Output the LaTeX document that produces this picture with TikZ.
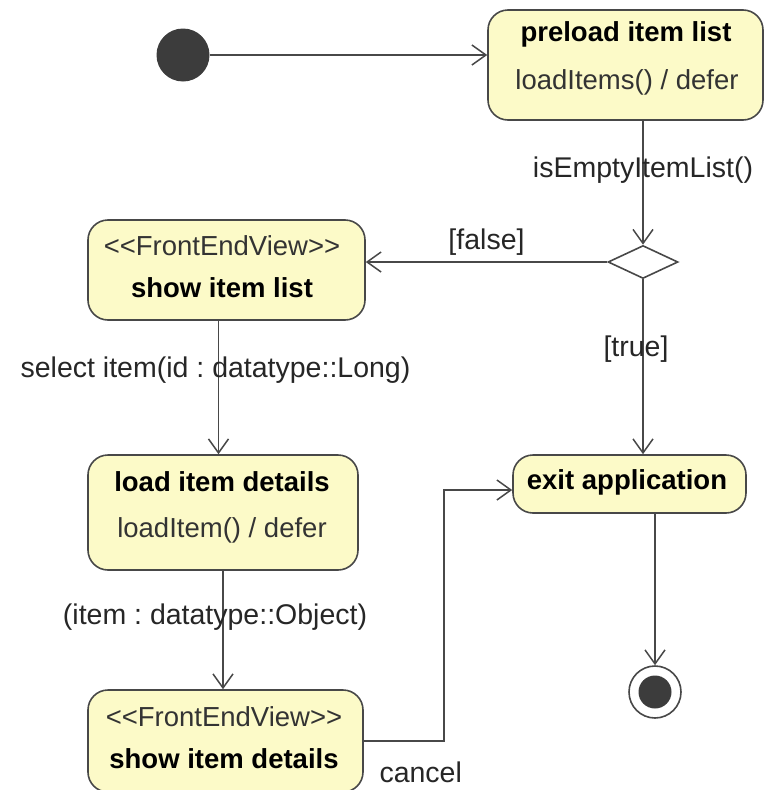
\documentclass[tikz,border=0pt]{standalone}
\usepackage{fontspec}
\setmainfont{Liberation Sans}
\usepackage{tikz}
\usetikzlibrary{shapes.geometric, arrows.meta, positioning, calc}
\usepackage{xcolor}
\definecolor{statefill}{RGB}{252,250,200}
\definecolor{edge}{RGB}{72,72,72}
\definecolor{dot}{RGB}{60,60,60}
\frenchspacing

\begin{document}
\begin{tikzpicture}[
  x=1pt, y=-1pt,
  state/.style={rectangle, draw=edge, line width=1.6pt, fill=statefill, rounded corners=20pt, inner sep=0pt},
  statename/.style={font=\fontsize{27.5}{33}\selectfont\bfseries, text=black, inner sep=0pt},
  doact/.style={font=\fontsize{27.5}{33}\selectfont, text=black!80, inner sep=0pt},
  trlabel/.style={font=\fontsize{28.5}{33}\selectfont, text=black!85, inner sep=0pt},
  decision/.style={diamond, draw=edge, line width=1.6pt, fill=white, minimum width=70pt, minimum height=33pt, inner sep=0pt},
  arrow/.style={-{Straight Barb[length=14pt, width=20pt, line width=1.5pt]}, draw=edge, line width=1.5pt},
]
\useasboundingbox (0,0) rectangle (779,790);

% start and end
\node[circle, fill=dot, minimum size=53pt, inner sep=0pt] (init) at (183,55) {};
\node[circle, draw=edge, line width=1.6pt, fill=white, minimum size=52pt, inner sep=0pt] (fin) at (655,692) {};
\node[circle, fill=dot, minimum size=33pt, inner sep=0pt] (finDot) at (fin) {};

% states
\node[state, minimum width=275pt, minimum height=110pt] (preload) at (625.5,65) {};
\node[statename] (preloadName) at (626,34) {preload item list};
\node[doact] (preloadDo) at (627,82) {loadItems() / defer};

\node[decision] (empty) at (643,262) {};

\node[state, minimum width=277pt, minimum height=100pt] (list) at (226.5,270) {};
\node[doact] (listStereo) at (222,246) {<{}<FrontEndView>{}>};
\node[statename] (listName) at (222,288) {show item list};

\node[state, minimum width=270pt, minimum height=115pt] (load) at (223,512.5) {};
\node[statename] (loadName) at (222,482) {load item details};
\node[doact] (loadDo) at (222,530) {loadItem() / defer};

\node[state, minimum width=275pt, minimum height=102pt] (details) at (225.5,741) {};
\node[doact] (detailsStereo) at (224,717) {<{}<FrontEndView>{}>};
\node[statename] (detailsName) at (224,759) {show item details};

\node[state, minimum width=233pt, minimum height=58pt] (exit) at (629.5,484) {};
\node[statename] (exitName) at (627,482) {exit application};

% transitions
\draw[arrow] (init) -- (init -| preload.west);
\draw[arrow] (preload.south -| empty.north) -- node[trlabel, pos=0.4]{isEmptyItemList()} (empty.north);
\draw[arrow] (empty.west) -- node[trlabel, above=6pt]{[false]} (empty.west -| list.east);
\draw[arrow] (empty.south) -- node[trlabel, pos=0.4, xshift=-7pt]{[true]} (empty.south |- exit.north);
\draw[arrow] ([xshift=-8pt]list.south) -- node[trlabel, pos=0.37, xshift=-3pt]{select item(id : datatype::Long)} ([xshift=-8pt]list.south |- load.north);
\draw[arrow] (load.south) -- node[trlabel, pos=0.39, xshift=-8pt]{(item : datatype::Object)} (load.south |- details.north);
\draw[arrow] (details.east) -- node[trlabel, pos=0, anchor=north west, xshift=15pt, yshift=-20pt]{cancel} ++(80,0) |- ([yshift=-6pt]exit.west);
\draw[arrow] (exit.south -| fin.north) -- (fin.north);

\end{tikzpicture}
\end{document}
